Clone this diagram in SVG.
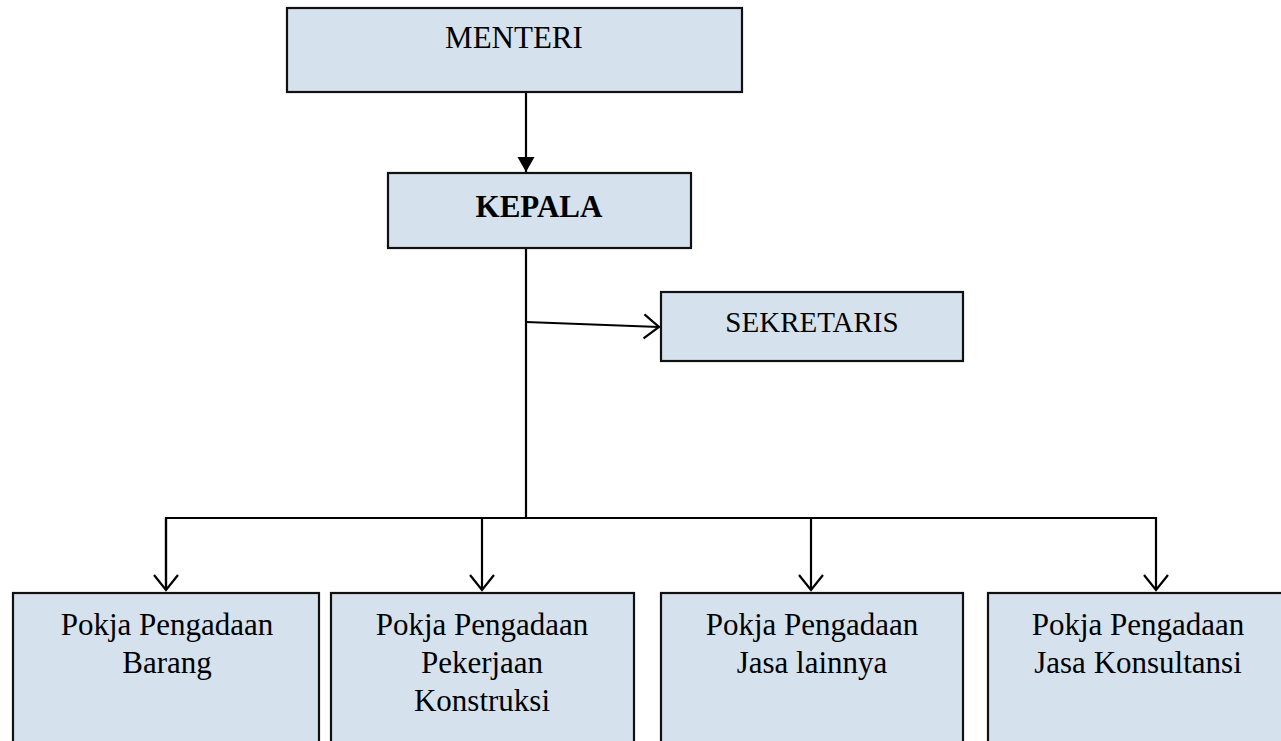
<svg xmlns="http://www.w3.org/2000/svg" width="1281" height="741" viewBox="0 0 1281 741">
<defs>
<style>
.box{fill:#d5e2ee;stroke:#111;stroke-width:2.2}
.t{font-family:"Liberation Serif","Times New Roman",serif;font-size:31px;fill:#000;text-anchor:middle}
.b{font-weight:bold}
.c{fill:none;stroke:#000;stroke-width:2.2}
</style>
<marker id="fill" markerWidth="18" markerHeight="18" refX="15" refY="8.5" orient="auto" markerUnits="userSpaceOnUse">
<path d="M0,0 L15,8.5 L0,17 Z" fill="#000"/>
</marker>
<marker id="open" markerWidth="20" markerHeight="28" refX="16" refY="13" orient="auto" markerUnits="userSpaceOnUse">
<path d="M1,1 L16,13 L1,25" fill="none" stroke="#000" stroke-width="2.2"/>
</marker>
</defs>
<rect width="1281" height="741" fill="#fff"/>
<g id="connectors">
<line class="c" x1="526" y1="92" x2="526" y2="172" marker-end="url(#fill)"/>
<line class="c" x1="526" y1="248" x2="526" y2="518"/>
<line class="c" x1="526" y1="322" x2="659" y2="327" marker-end="url(#open)"/>
<polyline class="c" points="166,590 166,518 1156,518 1156,590" marker-end="url(#open)"/>
<line class="c" x1="166" y1="518" x2="166" y2="590" marker-end="url(#open)"/>
<line class="c" x1="482" y1="518" x2="482" y2="590" marker-end="url(#open)"/>
<line class="c" x1="811" y1="518" x2="811" y2="590" marker-end="url(#open)"/>
</g>
<g id="menteri">
<rect class="box" x="287" y="8" width="455" height="84"/>
<text class="t" x="514" y="48">MENTERI</text>
</g>
<g id="kepala">
<rect class="box" x="388" y="173" width="303" height="75"/>
<text class="t b" x="539" y="217">KEPALA</text>
</g>
<g id="sekretaris">
<rect class="box" x="661" y="292" width="302" height="69"/>
<text class="t" x="812" y="332" style="font-size:29px">SEKRETARIS</text>
</g>
<g id="pokja-barang">
<rect class="box" x="13" y="593" width="306" height="170"/>
<text class="t" x="167" y="635">Pokja Pengadaan</text>
<text class="t" x="167" y="673">Barang</text>
</g>
<g id="pokja-konstruksi">
<rect class="box" x="331" y="593" width="303" height="170"/>
<text class="t" x="482" y="635">Pokja Pengadaan</text>
<text class="t" x="482" y="673">Pekerjaan</text>
<text class="t" x="482" y="711">Konstruksi</text>
</g>
<g id="pokja-jasa-lainnya">
<rect class="box" x="661" y="593" width="302" height="170"/>
<text class="t" x="812" y="635">Pokja Pengadaan</text>
<text class="t" x="812" y="673">Jasa lainnya</text>
</g>
<g id="pokja-jasa-konsultansi">
<rect class="box" x="988" y="593" width="306" height="170"/>
<text class="t" x="1138" y="635">Pokja Pengadaan</text>
<text class="t" x="1138" y="673">Jasa Konsultansi</text>
</g>
</svg>
